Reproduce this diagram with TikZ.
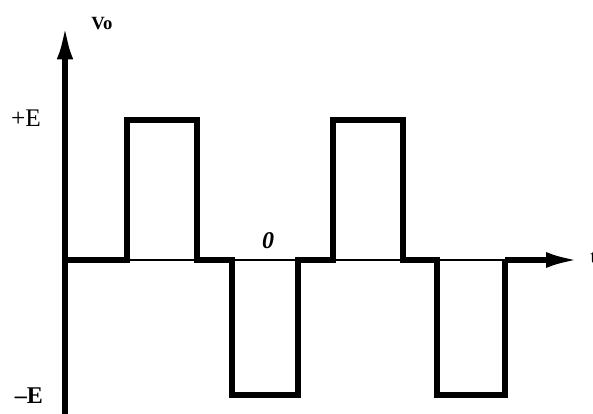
\documentclass[tikz,border=0pt]{standalone}
\usepackage{fontspec}
\setmainfont{Liberation Serif}
\usetikzlibrary{arrows.meta}

\tikzset{
  wave/.style={line width=3.8pt, line join=miter},
  lbl/.style={font=\fontsize{19}{19}\selectfont, inner sep=0pt}
}

\begin{document}
\begin{tikzpicture}[x=0.75pt, y=-0.75pt]
        \useasboundingbox (0,0) rectangle (593,414);
        % axes
        \coordinate (o) at (65,260);
        \coordinate (yend) at (65,22);
        \coordinate (ybot) at (65,414);
        \coordinate (xend) at (578,260);
        \draw[line width=4.8pt, -{Latex[length=28pt, width=12pt]}] (ybot) -- (yend);
        \draw[line width=2.2pt] (o) -- (505,260);
        \node[font=\bfseries\fontsize{14}{14}\selectfont, inner sep=0pt] (vo) at (102,24) {Vo};
        \node[lbl] (pE) at (26,118) {+E};
        \node[lbl, font=\bfseries\fontsize{18}{18}\selectfont] (mE) at (29,396) {–E};
        \node[font=\bfseries\itshape\fontsize{18}{18}\selectfont, inner sep=0pt] (zero) at (268,241) {0};
        \node[font=\bfseries\fontsize{16}{16}\selectfont, anchor=west, inner sep=0pt] (t) at (590,258) {t};
        % output waveform
        \draw[wave] (o) -- (127,260) -- (127,120) -- (197,120) -- (197,260)
          -- (232,260) -- (232,395) -- (298,395) -- (298,260)
          -- (333,260) -- (333,120) -- (403,120) -- (403,260)
          -- (437,260) -- (437,395) -- (505,395) -- (505,260);
        \draw[line width=3.8pt, -{Latex[length=24pt, width=12pt]}] (505,260) -- (xend);
\end{tikzpicture}
\end{document}
